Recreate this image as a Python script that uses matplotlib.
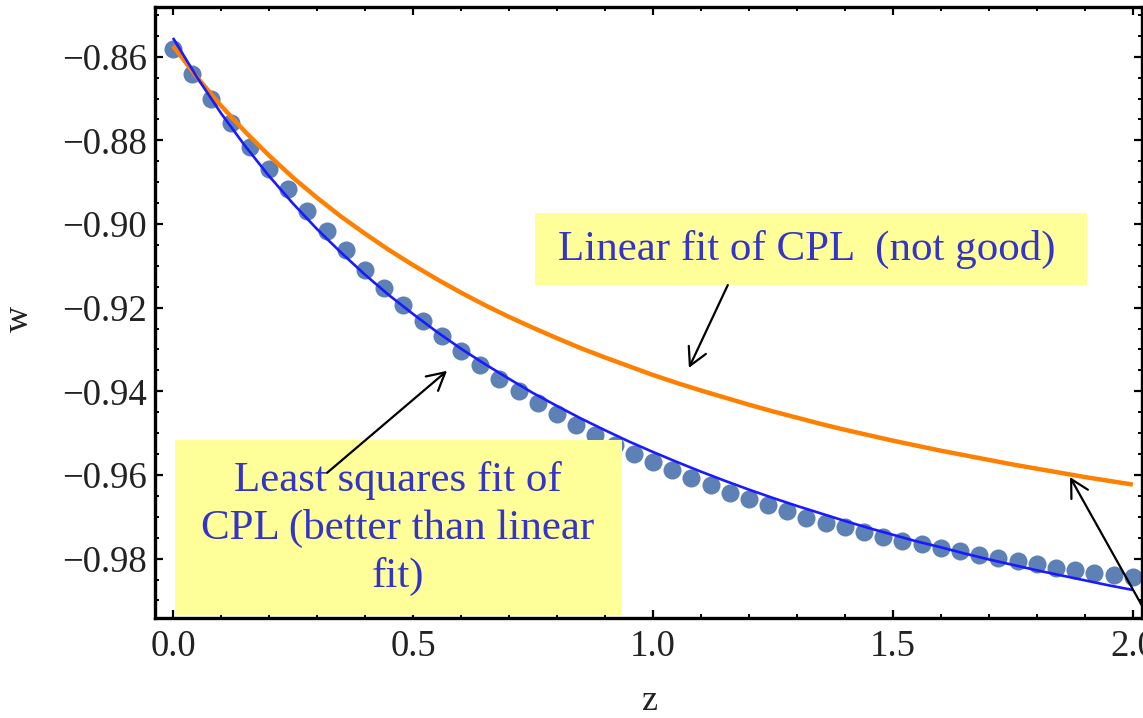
import numpy
import matplotlib
matplotlib.use('Agg')
import matplotlib.pyplot as plt
from matplotlib.patches import Rectangle
from matplotlib.ticker import MultipleLocator, FuncFormatter

plt.rcParams['font.family'] = ['Liberation Serif', 'DejaVu Serif']

# Sampled equation of state w(z)
z_points = numpy.round(numpy.arange(51) * 0.04, 2)
w_points = [-0.8581, -0.8641, -0.8701, -0.8758, -0.8816, -0.8869, -0.8917, -0.8970,
            -0.9016, -0.9063, -0.9109, -0.9152, -0.9193, -0.9231, -0.9267, -0.9303,
            -0.9337, -0.9370, -0.9399, -0.9428, -0.9454, -0.9481, -0.9505, -0.9528,
            -0.9550, -0.9570, -0.9589, -0.9608, -0.9625, -0.9644, -0.9658, -0.9673,
            -0.9687, -0.9702, -0.9714, -0.9725, -0.9737, -0.9748, -0.9757, -0.9765,
            -0.9774, -0.9783, -0.9792, -0.9799, -0.9805, -0.9814, -0.9822, -0.9828,
            -0.9835, -0.9840, -0.9844]

# Fitted curves
z_fit = numpy.round(numpy.arange(41) * 0.05, 2)
w_linear = [-0.8574, -0.8649, -0.8717, -0.8779, -0.8836, -0.8889, -0.8937, -0.8982,
            -0.9023, -0.9062, -0.9098, -0.9132, -0.9164, -0.9194, -0.9222, -0.9248,
            -0.9273, -0.9297, -0.9319, -0.9340, -0.9361, -0.9380, -0.9398, -0.9415,
            -0.9432, -0.9448, -0.9463, -0.9478, -0.9492, -0.9505, -0.9518, -0.9530,
            -0.9542, -0.9553, -0.9564, -0.9575, -0.9585, -0.9595, -0.9605, -0.9614,
            -0.9623]
w_lsq = [-0.8555, -0.8649, -0.8735, -0.8813, -0.8885, -0.8951, -0.9012, -0.9068,
         -0.9121, -0.9170, -0.9215, -0.9258, -0.9298, -0.9335, -0.9370, -0.9404,
         -0.9435, -0.9465, -0.9493, -0.9520, -0.9545, -0.9569, -0.9592, -0.9614,
         -0.9635, -0.9655, -0.9674, -0.9692, -0.9710, -0.9727, -0.9743, -0.9759,
         -0.9773, -0.9788, -0.9802, -0.9815, -0.9828, -0.9840, -0.9852, -0.9864,
         -0.9875]

x_ticks = [0.0, 0.5, 1.0, 1.5, 2.0]
y_ticks = [-0.86, -0.88, -0.90, -0.92, -0.94, -0.96, -0.98]

note_color = '#3434c8'
box_color = '#ffff99'

fig = plt.figure(figsize=(11.43, 7.18), dpi=100)
ax = fig.add_axes([0.1356, 0.1393, 0.8635, 0.851])

ax.plot(z_points, w_points, 'o', color='#5d80b5', markersize=13, markeredgewidth=0, zorder=2)
ax.plot(z_fit, w_linear, color='#ff8000', lw=3.2, zorder=3, solid_capstyle='butt')
ax.plot(z_fit, w_lsq, color='#1a1aff', lw=1.9, zorder=4, solid_capstyle='butt')

ax.set_xlim(-0.0375, 2.019)
ax.set_ylim(-0.9942, -0.8481)

ax.set_xticks(x_ticks)
ax.set_yticks(y_ticks)
ax.xaxis.set_minor_locator(MultipleLocator(0.1))
ax.yaxis.set_minor_locator(MultipleLocator(0.005))
ax.xaxis.set_major_formatter(FuncFormatter(lambda v, p: '%.1f' % v))
ax.yaxis.set_major_formatter(FuncFormatter(lambda v, p: ('%.2f' % v).replace('-', '\u2212')))

ax.tick_params(which='both', direction='in', top=True, right=True, colors='k')
ax.tick_params(which='major', length=5.5, width=1.6, labelsize=26.5, labelcolor='#222222')
ax.tick_params(which='minor', length=3, width=1.4)
ax.tick_params(axis='x', which='major', pad=8)
ax.tick_params(axis='y', which='major', pad=6)
for s in ax.spines.values():
  s.set_linewidth(2.4)

ax.set_xlabel('z', fontsize=26, color='#222222')
ax.set_ylabel('w', fontsize=26, color='#222222')
ax.xaxis.set_label_coords(0.502, -0.136)
ax.xaxis.label.set_va('center')
ax.yaxis.set_label_coords(-0.137, 0.49)
ax.yaxis.label.set_va('center')

# Note boxes
ax.add_patch(Rectangle((0.754, -0.9146), 1.15, 0.0172, facecolor=box_color, edgecolor='none', zorder=5))
ax.add_patch(Rectangle((0.004, -0.9935), 0.931, 0.0419, facecolor=box_color, edgecolor='none', zorder=5))

ax.text(1.320, -0.9060, 'Linear fit of CPL  (not good)', fontsize=31, color=note_color,
        ha='center', va='center', zorder=6)
ax.text(0.469, -0.9728, 'Least squares fit of\nCPL (better than linear\nfit)', fontsize=31,
        color=note_color, ha='center', va='center', linespacing=1.3, zorder=6)

arrow = dict(arrowstyle='->,head_length=0.63,head_width=0.34', lw=1.6, color='k',
             mutation_scale=20, shrinkA=0, shrinkB=0)
ax.annotate('', xy=(1.075, -0.9344), xytext=(1.156, -0.9146), arrowprops=arrow,
            zorder=7, annotation_clip=False)
ax.annotate('', xy=(0.571, -0.9351), xytext=(0.321, -0.9595), arrowprops=arrow,
            zorder=7, annotation_clip=False)
ax.annotate('', xy=(1.869, -0.9605), xytext=(2.067, -1.0011), arrowprops=arrow,
            zorder=7, annotation_clip=False)

fig.savefig('out.png', dpi=100)
